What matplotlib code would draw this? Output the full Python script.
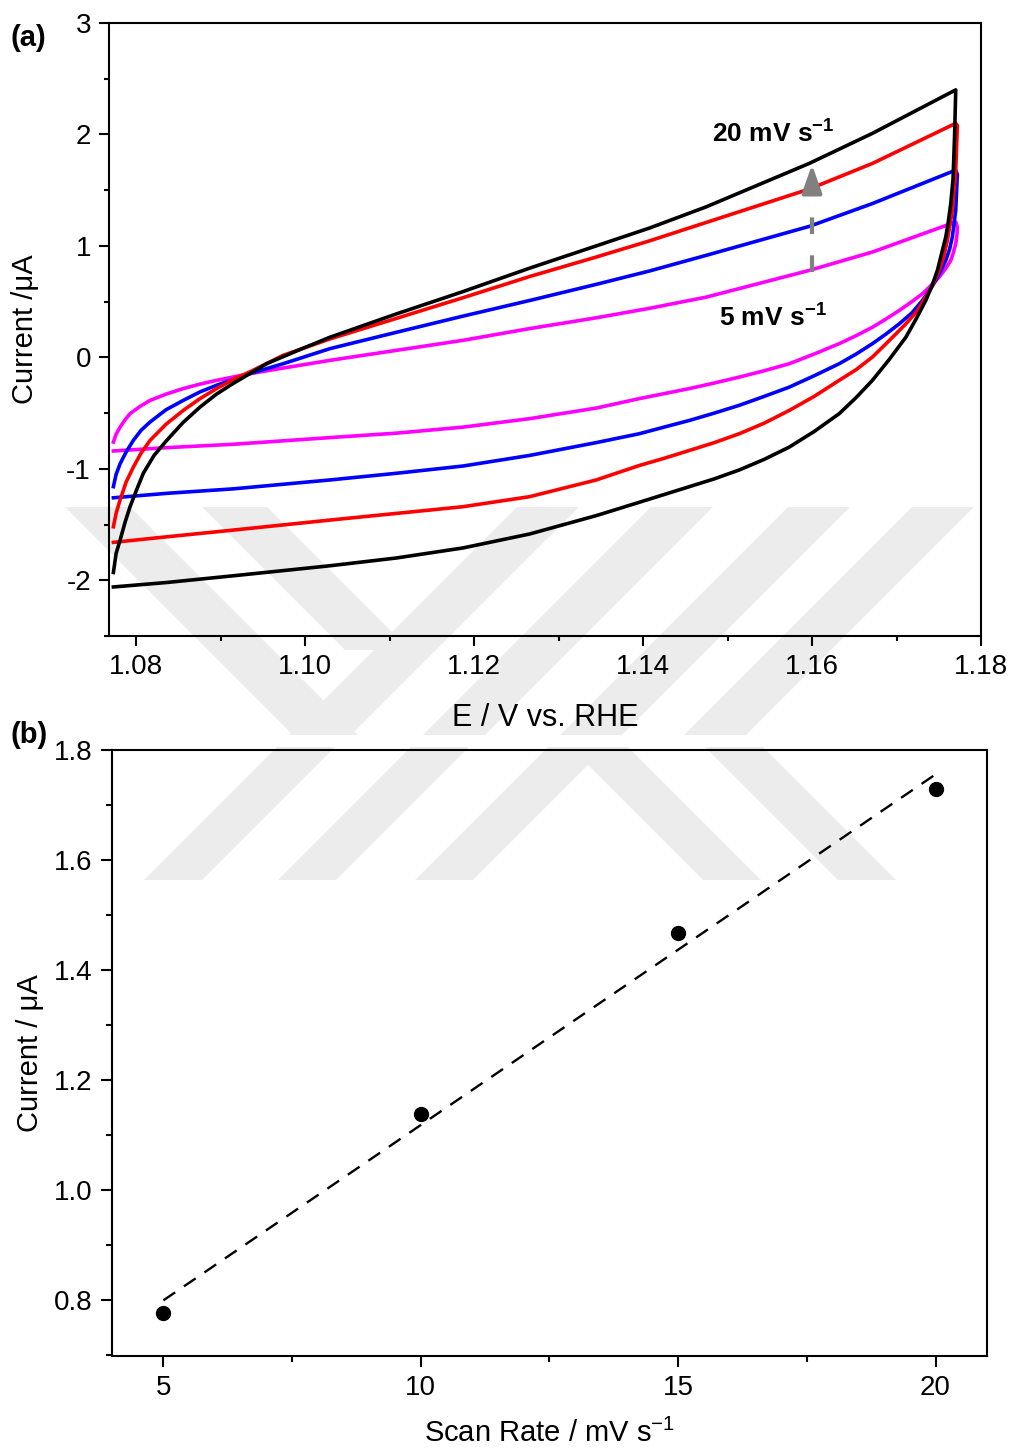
import numpy as np
import matplotlib.pyplot as plt
from matplotlib.patches import Polygon
from matplotlib.ticker import AutoMinorLocator, FormatStrFormatter, MultipleLocator

plt.rcParams['font.family'] = ['Liberation Sans', 'DejaVu Sans']
plt.rcParams['mathtext.fontset'] = 'custom'
plt.rcParams['mathtext.rm'] = 'Liberation Sans'
plt.rcParams['mathtext.bf'] = 'Liberation Sans:bold'
plt.rcParams['mathtext.default'] = 'regular'
plt.rcParams['axes.unicode_minus'] = False

# ---- data: cyclic voltammograms, anodic sweep then cathodic sweep ----
e_5 = [1.07732, 1.07764, 1.07811, 1.07870, 1.07929, 1.08047, 1.08166, 1.08355, 1.08559,
       1.08757, 1.08954, 1.09348, 1.09741, 1.10293, 1.11082, 1.11869, 1.12657, 1.13446,
       1.14076, 1.14746, 1.15967, 1.16715, 1.17701,
       1.17720, 1.17716, 1.17701, 1.17675, 1.17642, 1.17580, 1.17504, 1.17409, 1.17306,
       1.17173, 1.17031, 1.16877, 1.16715, 1.16523, 1.16322, 1.16026, 1.15731, 1.15435,
       1.15140, 1.14844, 1.14549, 1.14253, 1.13957, 1.13446, 1.12657, 1.11869, 1.11082,
       1.10293, 1.09147, 1.08363, 1.07732]
i_5 = [-0.76, -0.69, -0.626, -0.56, -0.505, -0.44, -0.386, -0.33, -0.28,
       -0.24, -0.206, -0.146, -0.096, -0.027, 0.063, 0.153, 0.258, 0.355,
       0.44, 0.54, 0.78, 0.945, 1.215,
       1.17, 1.10, 1.02, 0.945, 0.87, 0.795, 0.72, 0.645, 0.57,
       0.495, 0.42, 0.345, 0.27, 0.195, 0.123, 0.03, -0.057, -0.12,
       -0.177, -0.23, -0.28, -0.325, -0.37, -0.455, -0.55, -0.626, -0.68,
       -0.72, -0.78, -0.81, -0.84]

e_10 = [1.07732, 1.07764, 1.07811, 1.07882, 1.07968, 1.08059, 1.08166, 1.08355, 1.08559,
        1.08757, 1.08954, 1.09348, 1.09741, 1.10293, 1.11082, 1.11869, 1.12657, 1.13446,
        1.14076, 1.14746, 1.15967, 1.16715, 1.17701,
        1.17720, 1.17701, 1.17661, 1.17628, 1.17583, 1.17527, 1.17465, 1.17391, 1.17306,
        1.17184, 1.17031, 1.16877, 1.16715, 1.16523, 1.16322, 1.16026, 1.15731, 1.15435,
        1.15140, 1.14844, 1.14549, 1.14253, 1.13957, 1.13446, 1.12657, 1.11869, 1.11082,
        1.10293, 1.09147, 1.08363, 1.07732]
i_10 = [-1.16, -1.05, -0.955, -0.85, -0.745, -0.655, -0.58, -0.47, -0.386,
        -0.31, -0.25, -0.146, -0.057, 0.078, 0.225, 0.37, 0.51, 0.655,
        0.775, 0.915, 1.175, 1.38, 1.68,
        1.64, 1.32, 1.08, 0.97, 0.87, 0.78, 0.69, 0.60, 0.51,
        0.40, 0.30, 0.21, 0.123, 0.03, -0.057, -0.165, -0.267, -0.35,
        -0.43, -0.50, -0.566, -0.625, -0.685, -0.765, -0.88, -0.975, -1.04,
        -1.10, -1.18, -1.22, -1.26]

e_15 = [1.07732, 1.07764, 1.07811, 1.07882, 1.07968, 1.08059, 1.08166, 1.08355, 1.08559,
        1.08757, 1.08954, 1.09147, 1.09348, 1.09741, 1.10293, 1.11082, 1.11869, 1.12657,
        1.13446, 1.14076, 1.14746, 1.15967, 1.16715, 1.17701,
        1.17720, 1.17701, 1.17661, 1.17602, 1.17557, 1.17504, 1.17433, 1.17346, 1.17244,
        1.17110, 1.16913, 1.16715, 1.16523, 1.16322, 1.16026, 1.15731, 1.15435, 1.15140,
        1.14844, 1.14549, 1.14253, 1.13957, 1.13446, 1.12657, 1.11869, 1.11082, 1.10293,
        1.09147, 1.08363, 1.07732]
i_15 = [-1.52, -1.40, -1.28, -1.12, -0.985, -0.86, -0.745, -0.60, -0.476,
        -0.37, -0.28, -0.20, -0.13, 0.018, 0.165, 0.35, 0.535, 0.725,
        0.90, 1.045, 1.21, 1.51, 1.74, 2.10,
        2.08, 1.68, 1.32, 1.05, 0.90, 0.78, 0.655, 0.54, 0.415,
        0.30, 0.15, 0.003, -0.11, -0.206, -0.35, -0.476, -0.59, -0.685,
        -0.765, -0.835, -0.905, -0.97, -1.10, -1.25, -1.34, -1.40, -1.46,
        -1.55, -1.61, -1.66]

e_20 = [1.07732, 1.07764, 1.07811, 1.07870, 1.07929, 1.08006, 1.08086, 1.08213, 1.08363,
        1.08556, 1.08757, 1.08952, 1.09147, 1.09545, 1.09939, 1.10293, 1.11082, 1.11869,
        1.12657, 1.13446, 1.14076, 1.14746, 1.15967, 1.16715, 1.17701,
        1.17687, 1.17669, 1.17642, 1.17610, 1.17583, 1.17533, 1.17484, 1.17421, 1.17346,
        1.17232, 1.17110, 1.16913, 1.16715, 1.16523, 1.16322, 1.16026, 1.15731, 1.15435,
        1.15140, 1.14844, 1.14549, 1.14253, 1.13957, 1.13446, 1.12657, 1.11869, 1.11082,
        1.10293, 1.09147, 1.08363, 1.07732]
i_20 = [-1.93, -1.76, -1.64, -1.48, -1.34, -1.19, -1.04, -0.88, -0.745,
        -0.585, -0.446, -0.33, -0.235, -0.057, 0.07, 0.18, 0.39, 0.59,
        0.80, 1.00, 1.16, 1.35, 1.74, 2.01, 2.40,
        1.98, 1.60, 1.38, 1.20, 1.08, 0.93, 0.78, 0.645, 0.51,
        0.345, 0.18, -0.02, -0.206, -0.36, -0.505, -0.665, -0.805, -0.915,
        -1.01, -1.09, -1.16, -1.23, -1.30, -1.42, -1.585, -1.71, -1.80,
        -1.87, -1.96, -2.02, -2.06]

cv_colors = ['#ff00ff', '#0000ff', '#ff0000', '#000000']

# ---- data: current at 1.16 V vs scan rate ----
scan_rate = [5, 10, 15, 20]
current = [0.776, 1.138, 1.467, 1.729]

W, H = 1017, 1452
fig = plt.figure(figsize=(W / 100, H / 100), dpi=100)


def px(x, y):
    return (x / W, 1 - y / H)


# faint page watermark: slanted stripes (page pixel coords)
def band(x_top, width, y_top, y_bot, s):
    d = s * (y_bot - y_top)
    pts = [px(x_top, y_top), px(x_top + width, y_top),
           px(x_top + width + d, y_bot), px(x_top + d, y_bot)]
    fig.add_artist(Polygon(pts, closed=True, transform=fig.transFigure,
                           facecolor='#ececec', edgecolor='none', zorder=-10))


band(65, 65, 507, 735, 1)
band(202, 65, 507, 650, 1)
for xt in [517, 651, 788, 912]:
    band(xt, 62, 507, 735, -1)
for xt in [277, 411, 548]:
    band(xt, 58, 747, 880, -1)
for xt in [570, 705]:
    band(xt, 58, 747, 880, 1)

# ---- panel (a) ----
ax1 = fig.add_axes([109 / W, 1 - 636 / H, (981 - 109) / W, (636 - 23) / H])
ax1.set_facecolor('none')
for e, i, c in zip([e_5, e_10, e_15, e_20], [i_5, i_10, i_15, i_20], cv_colors):
    ax1.plot(e, i, color=c, lw=2.6, solid_joinstyle='round')

ax1.plot([1.16, 1.16], [0.77, 1.26], color='#808080', lw=3,
         linestyle=(0, (4, 5.1)), dash_capstyle='butt')
ax1.annotate('', xy=(1.16, 1.73), xytext=(1.16, 1.47),
             arrowprops=dict(arrowstyle='-|>,head_length=0.85,head_width=0.3',
                             color='#808080', lw=3, mutation_scale=20,
                             shrinkA=0, shrinkB=0))
ax1.text(1.1482, 2.0, r'20 mV s$^{\mathbf{-1}}$', fontsize=19, fontweight='bold',
         ha='left', va='center')
ax1.text(1.149, 0.35, r'5 mV s$^{\mathbf{-1}}$', fontsize=19, fontweight='bold',
         ha='left', va='center')

ax1.set_xlim(1.0768, 1.18)
ax1.set_ylim(-2.5, 3)
ax1.xaxis.set_major_locator(MultipleLocator(0.02))
ax1.xaxis.set_major_formatter(FormatStrFormatter('%.2f'))
ax1.yaxis.set_major_locator(MultipleLocator(1))
ax1.yaxis.set_major_formatter(FormatStrFormatter('%d'))
ax1.xaxis.set_minor_locator(AutoMinorLocator(2))
ax1.yaxis.set_minor_locator(AutoMinorLocator(2))
ax1.set_xlabel('E / V vs. RHE', fontsize=22)
ax1.set_ylabel('Current /μA', fontsize=21)
ax1.xaxis.set_label_coords(0.5, -0.11)
ax1.yaxis.set_label_coords(-0.08, 0.5)

# ---- panel (b) ----
ax2 = fig.add_axes([112 / W, 1 - 1356 / H, (987 - 112) / W, (1356 - 750) / H])
ax2.set_facecolor('none')
ax2.plot(scan_rate, current, 'o', color='black', markersize=10)
k, b = np.polyfit(scan_rate, current, 1)
fit_x = np.array([scan_rate[0], scan_rate[-1]])
ax2.plot(fit_x, k * fit_x + b, color='black', lw=1.7, linestyle=(0, (6, 4.5)))

ax2.set_xlim(4.0, 21.0)
ax2.set_ylim(0.698, 1.8)
ax2.xaxis.set_major_locator(MultipleLocator(5))
ax2.xaxis.set_minor_locator(AutoMinorLocator(2))
ax2.yaxis.set_major_locator(MultipleLocator(0.2))
ax2.yaxis.set_major_formatter(FormatStrFormatter('%.1f'))
ax2.yaxis.set_minor_locator(AutoMinorLocator(2))
ax2.set_xlabel('Scan Rate / mV s$^{-1}$', fontsize=21)
ax2.set_ylabel('Current / μA', fontsize=21)
ax2.xaxis.set_label_coords(0.5, -0.104)
ax2.yaxis.set_label_coords(-0.078, 0.5)

for ax, fs, mlen in [(ax1, 20, 7), (ax2, 20, 8)]:
    for sp in ax.spines.values():
        sp.set_linewidth(1.5)
    ax.tick_params(which='both', direction='out', width=1.5, top=False, right=False,
                   labelsize=fs)
    ax.tick_params(which='major', length=mlen, pad=6)
    ax.tick_params(which='minor', length=mlen / 2)

fig.text(10 / W, 1 - 38 / H, '(a)', fontsize=21, fontweight='bold', va='center')
fig.text(10 / W, 1 - 735 / H, '(b)', fontsize=21, fontweight='bold', va='center')

fig.savefig('out.png', dpi=100)
